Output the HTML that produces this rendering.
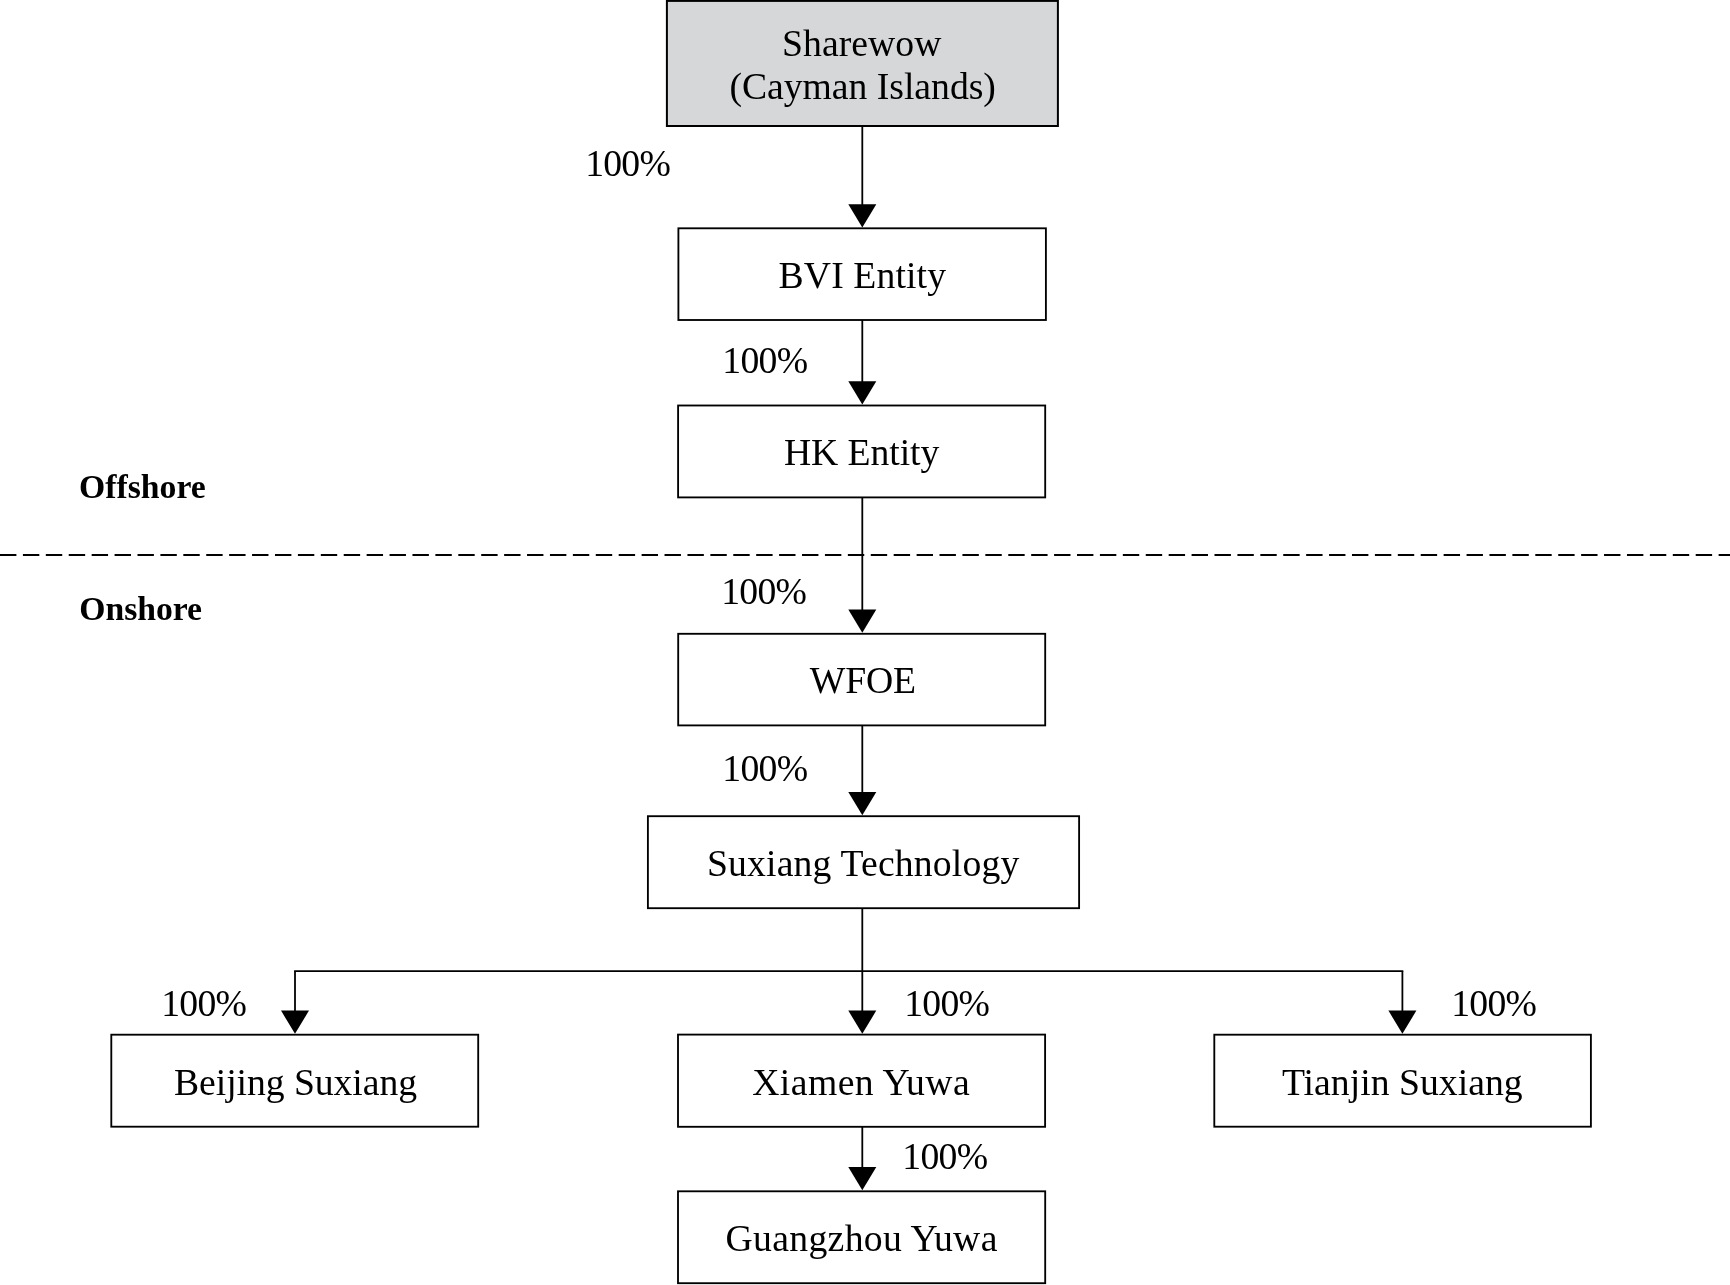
<!DOCTYPE html>
<html><head><meta charset="utf-8"><style>
html,body{margin:0;padding:0;background:#fff;}
body{width:1730px;height:1285px;overflow:hidden;position:relative;}
svg{position:absolute;left:0;top:0;will-change:transform;}
text{font-family:"Liberation Serif",serif;font-size:37.7px;fill:#000;}
text.b{font-weight:bold;font-size:33.7px;}
</style></head><body>
<svg width="1730" height="1285" viewBox="0 0 1730 1285">
<line x1="0" y1="555.0" x2="1730" y2="555.0" stroke="#000" stroke-width="2.1" stroke-dasharray="16.4 6.515"/>
<rect x="666.9" y="0.9" width="391.00" height="125.10" fill="#d6d7d9" stroke="#000" stroke-width="2.0"/>
<rect x="678.4" y="228.3" width="367.50" height="91.70" fill="#fff" stroke="#000" stroke-width="1.85"/>
<rect x="678.1" y="405.5" width="367.10" height="91.90" fill="#fff" stroke="#000" stroke-width="1.85"/>
<rect x="678.2" y="633.8" width="367.00" height="91.60" fill="#fff" stroke="#000" stroke-width="1.85"/>
<rect x="647.9" y="816.2" width="431.20" height="92.00" fill="#fff" stroke="#000" stroke-width="1.85"/>
<rect x="111.3" y="1034.7" width="366.90" height="92.00" fill="#fff" stroke="#000" stroke-width="1.85"/>
<rect x="678.0" y="1034.6" width="367.10" height="92.20" fill="#fff" stroke="#000" stroke-width="1.85"/>
<rect x="1214.3" y="1034.7" width="376.60" height="92.00" fill="#fff" stroke="#000" stroke-width="1.85"/>
<rect x="678.0" y="1191.3" width="367.20" height="91.90" fill="#fff" stroke="#000" stroke-width="1.85"/>
<line x1="295.0" y1="971.2" x2="1402.4" y2="971.2" stroke="#000" stroke-width="1.8" stroke-linecap="square"/>
<line x1="862.3" y1="126.0" x2="862.3" y2="205.20000000000002" stroke="#000" stroke-width="1.8"/>
<path d="M848.30 204.20 L876.30 204.20 L862.30 227.40 Z" fill="#000"/>
<line x1="862.3" y1="320.0" x2="862.3" y2="382.2" stroke="#000" stroke-width="1.8"/>
<path d="M848.30 381.20 L876.30 381.20 L862.30 404.40 Z" fill="#000"/>
<line x1="862.3" y1="497.4" x2="862.3" y2="610.5999999999999" stroke="#000" stroke-width="1.8"/>
<path d="M848.30 609.60 L876.30 609.60 L862.30 632.80 Z" fill="#000"/>
<line x1="862.3" y1="725.3" x2="862.3" y2="793.0" stroke="#000" stroke-width="1.8"/>
<path d="M848.30 792.00 L876.30 792.00 L862.30 815.20 Z" fill="#000"/>
<line x1="862.3" y1="908.2" x2="862.3" y2="1011.5999999999999" stroke="#000" stroke-width="1.8"/>
<path d="M848.30 1010.60 L876.30 1010.60 L862.30 1033.80 Z" fill="#000"/>
<line x1="295.0" y1="971.2" x2="295.0" y2="1011.5999999999999" stroke="#000" stroke-width="1.8"/>
<path d="M281.00 1010.60 L309.00 1010.60 L295.00 1033.80 Z" fill="#000"/>
<line x1="1402.4" y1="971.2" x2="1402.4" y2="1011.5999999999999" stroke="#000" stroke-width="1.8"/>
<path d="M1388.40 1010.60 L1416.40 1010.60 L1402.40 1033.80 Z" fill="#000"/>
<line x1="862.3" y1="1126.7" x2="862.3" y2="1168.1" stroke="#000" stroke-width="1.8"/>
<path d="M848.30 1167.10 L876.30 1167.10 L862.30 1190.30 Z" fill="#000"/>
<text x="782.00" y="56.1" textLength="159.39" lengthAdjust="spacing">Sharewow</text>
<text x="729.40" y="99.0" textLength="266.49" lengthAdjust="spacing">(Cayman Islands)</text>
<text x="778.60" y="287.8" textLength="167.45" lengthAdjust="spacing">BVI Entity</text>
<text x="783.90" y="464.5" textLength="155.48" lengthAdjust="spacing">HK Entity</text>
<text x="809.80" y="692.8" textLength="106.18" lengthAdjust="spacing">WFOE</text>
<text x="707.00" y="876.2" textLength="312.26" lengthAdjust="spacing">Suxiang Technology</text>
<text x="174.00" y="1094.6" textLength="243.02" lengthAdjust="spacing">Beijing Suxiang</text>
<text x="752.20" y="1094.6" textLength="217.46" lengthAdjust="spacing">Xiamen Yuwa</text>
<text x="1281.90" y="1094.6" textLength="240.78" lengthAdjust="spacing">Tianjin Suxiang</text>
<text x="725.40" y="1250.9" textLength="271.99" lengthAdjust="spacing">Guangzhou Yuwa</text>
<text x="585.20" y="176.1" textLength="85.64" lengthAdjust="spacing">100%</text>
<text x="722.30" y="372.8" textLength="85.74" lengthAdjust="spacing">100%</text>
<text x="721.20" y="603.8" textLength="85.74" lengthAdjust="spacing">100%</text>
<text x="722.30" y="780.7" textLength="85.74" lengthAdjust="spacing">100%</text>
<text x="161.20" y="1015.7" textLength="85.74" lengthAdjust="spacing">100%</text>
<text x="904.20" y="1015.7" textLength="85.74" lengthAdjust="spacing">100%</text>
<text x="1451.20" y="1015.7" textLength="85.74" lengthAdjust="spacing">100%</text>
<text x="902.30" y="1168.6" textLength="85.74" lengthAdjust="spacing">100%</text>
<text class="b" x="79.07" y="497.8" textLength="126.66" lengthAdjust="spacing">Offshore</text>
<text class="b" x="79.30" y="620.1" textLength="122.74" lengthAdjust="spacing">Onshore</text>
</svg>
</body></html>
